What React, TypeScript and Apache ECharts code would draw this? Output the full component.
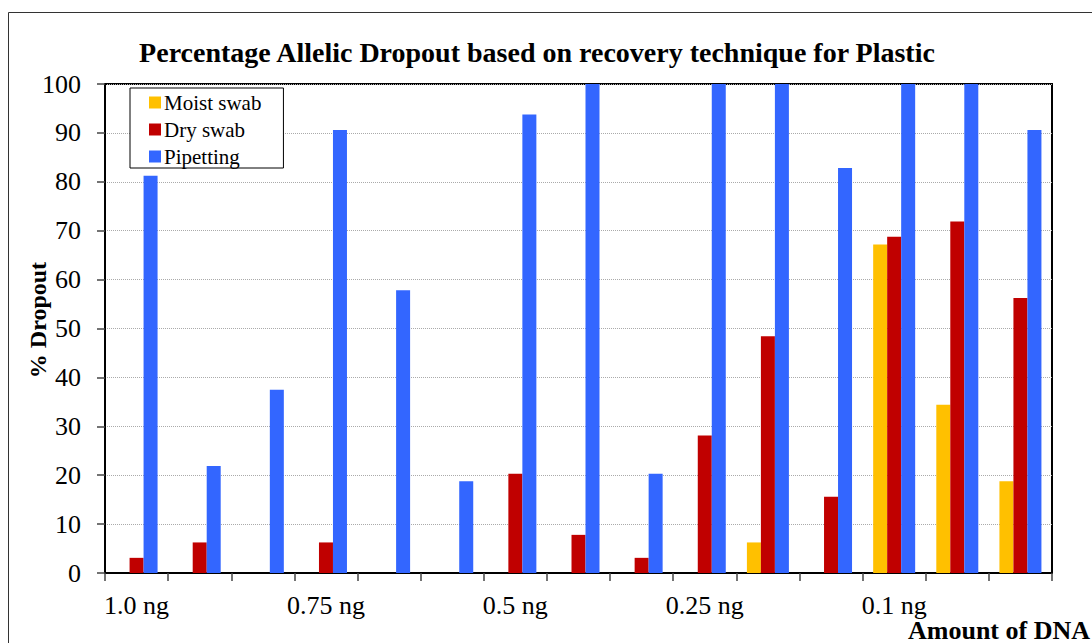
import React, { useEffect, useRef } from "react";
import * as echarts from "echarts";

const categories = [
  "1.0 ng #1", "1.0 ng #2", "1.0 ng #3",
  "0.75 ng #1", "0.75 ng #2", "0.75 ng #3",
  "0.5 ng #1", "0.5 ng #2", "0.5 ng #3",
  "0.25 ng #1", "0.25 ng #2", "0.25 ng #3",
  "0.1 ng #1", "0.1 ng #2", "0.1 ng #3",
];
const tickLabels = [
  "1.0 ng", "", "",
  "0.75 ng", "", "",
  "0.5 ng", "", "",
  "0.25 ng", "", "",
  "0.1 ng", "", "",
];
const moistSwab = [0, 0, 0, 0, 0, 0, 0, 0, 0, 0, 6.25, 0, 67.2, 34.4, 18.75];
const drySwab = [3.1, 6.25, 0, 6.25, 0, 0, 20.3, 7.8, 3.1, 28.1, 48.4, 15.6, 68.75, 71.9, 56.25];
const pipetting = [81.25, 21.9, 37.5, 90.6, 57.8, 18.75, 93.75, 100, 20.3, 100, 100, 82.8, 100, 100, 90.6];
const yTicks = { min: 0, max: 100, interval: 10 };

const FONT = "Liberation Serif";

export default function App() {
  const ref = useRef<HTMLDivElement>(null);
  useEffect(() => {
    if (!ref.current) return;
    const chart = echarts.init(ref.current, undefined, { renderer: "svg" });
    chart.setOption({
      animation: false,
      backgroundColor: "#fff",
      textStyle: { fontFamily: FONT },
      title: {
        text: "Percentage Allelic Dropout based on recovery technique for Plastic",
        left: 532,
        textAlign: "center",
        top: 33,
        textStyle: { fontFamily: FONT, fontSize: 28, fontWeight: "bold", color: "#000" },
      },
      legend: {
        orient: "vertical",
        left: 130,
        top: 88,
        data: ["Moist swab", "Dry swab", "Pipetting"],
        icon: "rect",
        itemWidth: 12,
        itemHeight: 12,
        itemGap: 6,
        padding: [4, 22, 1, 19],
        borderColor: "#000",
        borderWidth: 1,
        backgroundColor: "#fff",
        textStyle: { fontFamily: FONT, fontSize: 21, color: "#000", padding: [0, 0, 0, -2] },
      },
      grid: {
        left: 105,
        top: 84,
        right: 40,
        bottom: 70,
        show: true,
        borderColor: "#000",
        borderWidth: 2,
        backgroundColor: "transparent",
        containLabel: false,
      },
      graphic: [
        {
          type: "rect",
          shape: { x: 8.5, y: 12.5, width: 1200, height: 800 },
          style: { fill: "none", stroke: "#333", lineWidth: 1 },
          silent: true,
          z: -10,
        },
        {
          type: "text",
          x: 38,
          y: 320,
          rotation: Math.PI / 2,
          style: {
            text: "% Dropout",
            fontFamily: FONT,
            fontSize: 24,
            fontWeight: "bold",
            fill: "#000",
            align: "center",
            verticalAlign: "middle",
          },
        },
        {
          type: "text",
          x: 1090,
          y: 617,
          style: {
            text: "Amount of DNA",
            fontFamily: FONT,
            fontSize: 26,
            fontWeight: "bold",
            fill: "#000",
            align: "right",
            verticalAlign: "top",
          },
          z: 100,
        },
      ],
      xAxis: {
        type: "category",
        data: categories,
        axisLine: { show: true, lineStyle: { color: "#000", width: 2 } },
        axisTick: { show: true, interval: 0, length: 8, lineStyle: { color: "#444", width: 1.5 } },
        axisLabel: {
          interval: 0,
          margin: 19,
          fontFamily: FONT,
          fontSize: 26,
          color: "#000",
          formatter: (_v: string, i: number) => tickLabels[i],
        },
        splitLine: { show: false },
      },
      yAxis: {
        type: "value",
        min: yTicks.min,
        max: yTicks.max,
        interval: yTicks.interval,
        axisLine: { show: true, lineStyle: { color: "#000", width: 2 } },
        axisTick: { show: true, length: 8, lineStyle: { color: "#444", width: 1.5 } },
        axisLabel: { margin: 24, fontFamily: FONT, fontSize: 26, color: "#000" },
        splitLine: { show: true, lineStyle: { color: "#aaa", type: "dotted", width: 1 } },
      },
      series: [
        {
          name: "Moist swab",
          type: "bar",
          data: moistSwab,
          barWidth: 14,
          barGap: "0%",
          itemStyle: { color: "#FFC000" },
        },
        {
          name: "Dry swab",
          type: "bar",
          data: drySwab,
          barWidth: 14,
          barGap: "0%",
          itemStyle: { color: "#C00000" },
        },
        {
          name: "Pipetting",
          type: "bar",
          data: pipetting,
          barWidth: 14,
          barGap: "0%",
          itemStyle: { color: "#3366FF" },
        },
      ],
    });
    return () => chart.dispose();
  }, []);
  return (
    <div
      ref={ref}
      style={{ position: "absolute", left: 0, top: 0, width: 1092, height: 643 }}
    />
  );
}
